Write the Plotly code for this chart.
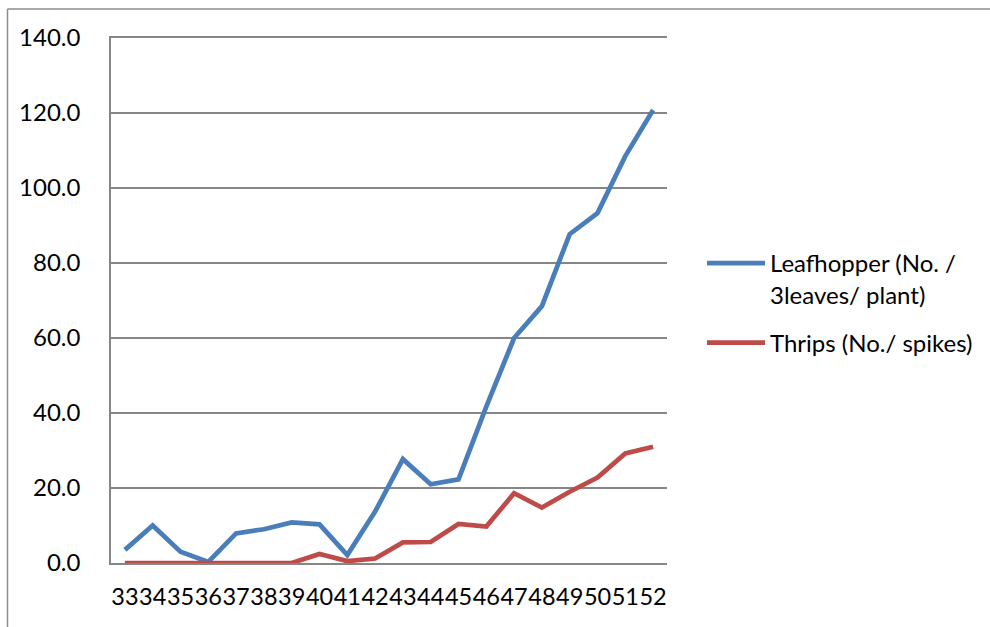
import plotly.graph_objects as go

# Standard week numbers
weeks = ["33", "34", "35", "36", "37", "38", "39", "40", "41", "42",
         "43", "44", "45", "46", "47", "48", "49", "50", "51", "52"]

# Pest population per week
leafhopper = [3.5, 10.0, 3.0, 0.3, 7.9, 9.0, 10.8, 10.3, 2.1, 13.7,
              27.7, 21.0, 22.3, 41.7, 60.0, 68.5, 87.7, 93.3, 108.5, 120.8]
thrips = [0.0, 0.0, 0.0, 0.0, 0.0, 0.0, 0.0, 2.4, 0.5, 1.2,
          5.5, 5.6, 10.4, 9.7, 18.6, 14.8, 19.0, 22.8, 29.2, 31.0]

series_names = ["Leafhopper (No. /<br>3leaves/ plant)", "Thrips (No./ spikes)"]
series_colors = ["#4A7EBB", "#BE4B48"]

FONT = "Lato"
FS = 24
W, H = 990, 627
ML, MR, MT, MB = 111, 323, 38, 64
pw, ph = W - ML - MR, H - MT - MB

fig = go.Figure()
for i, (name, vals, col) in enumerate(zip(series_names, [leafhopper, thrips], series_colors)):
    fig.add_trace(go.Scatter(
        x=weeks, y=vals, name=name, mode="lines", legendgroup=f"g{i}",
        line=dict(color=col, width=4.75),
    ))

def px_x(p):
    return (p - ML) / pw

def px_y(p):
    return 1 - (p - MT) / ph

# Outer chart border (top and left edges visible)
border = dict(color="#8C8C8C", width=1.5)
fig.add_shape(type="line", xref="paper", yref="paper",
              x0=px_x(7.5), x1=px_x(1000), y0=px_y(9), y1=px_y(9), line=border)
fig.add_shape(type="line", xref="paper", yref="paper",
              x0=px_x(7.5), x1=px_x(7.5), y0=px_y(9), y1=px_y(640), line=border)

grid = "#868686"
fig.update_layout(
    width=W, height=H,
    margin=dict(l=ML, r=MR, t=MT, b=MB, autoexpand=False),
    paper_bgcolor="white", plot_bgcolor="white",
    font=dict(family=FONT, size=FS, color="#000000"),
    showlegend=True,
    legend=dict(
        x=px_x(702), xanchor="left", y=px_y(241), yanchor="top",
        font=dict(family=FONT, size=FS, color="#000000"),
        itemwidth=58, tracegroupgap=14, valign="top",
        bgcolor="rgba(0,0,0,0)",
    ),
    xaxis=dict(
        type="category", range=[-0.5, len(weeks) - 0.5],
        tickmode="array", tickvals=weeks, ticktext=weeks, tickangle=0,
        showgrid=False, zeroline=False, automargin=False,
        showline=True, linecolor=grid, linewidth=1.5, mirror=True,
        ticks="", ticklabelstandoff=12,
        tickfont=dict(family=FONT, size=23.5),
    ),
    yaxis=dict(
        range=[0, 140], tickvals=[0, 20, 40, 60, 80, 100, 120, 140],
        tickformat=".1f", showgrid=True, gridcolor=grid, gridwidth=1.5,
        zeroline=False, showline=True, linecolor=grid, linewidth=1.5,
        ticks="", ticklabelstandoff=24, automargin=False,
        tickfont=dict(family=FONT, size=FS),
    ),
)

fig.write_html("out.html")
